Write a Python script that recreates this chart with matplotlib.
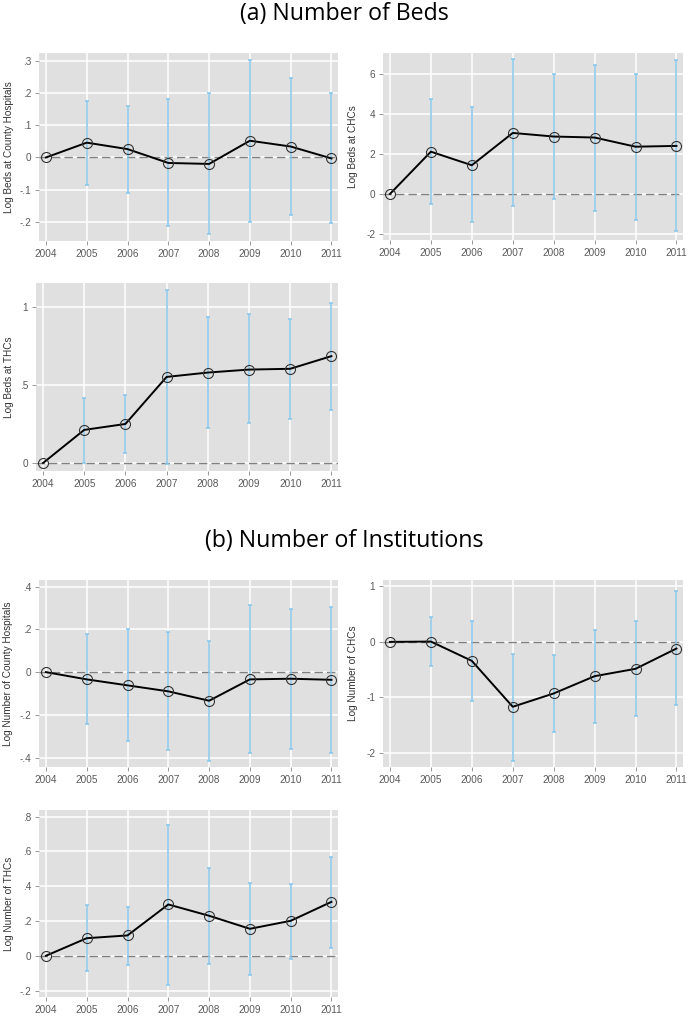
import numpy as np
import matplotlib.pyplot as plt

plt.rcParams['font.family'] = ['Liberation Sans', 'DejaVu Sans']

years = [2004, 2005, 2006, 2007, 2008, 2009, 2010, 2011]
nan = np.nan

# (a) Number of Beds -- point estimates and 95% bounds (2004 is the base year)
beds_county = [0, 0.046, 0.026, -0.017, -0.020, 0.052, 0.034, -0.003]
beds_county_lo = [nan, -0.084, -0.111, -0.211, -0.237, -0.200, -0.179, -0.203]
beds_county_hi = [nan, 0.176, 0.160, 0.180, 0.201, 0.303, 0.248, 0.200]

beds_chc = [0, 2.12, 1.44, 3.06, 2.88, 2.83, 2.37, 2.41]
beds_chc_lo = [nan, -0.52, -1.42, -0.60, -0.27, -0.85, -1.32, -1.87]
beds_chc_hi = [nan, 4.75, 4.38, 6.76, 6.00, 6.45, 6.00, 6.70]

beds_thc = [0, 0.212, 0.250, 0.551, 0.579, 0.598, 0.603, 0.684]
beds_thc_lo = [nan, 0.002, 0.064, -0.004, 0.227, 0.253, 0.280, 0.342]
beds_thc_hi = [nan, 0.417, 0.438, 1.107, 0.932, 0.951, 0.923, 1.026]

# (b) Number of Institutions
inst_county = [0, -0.034, -0.062, -0.090, -0.134, -0.034, -0.031, -0.036]
inst_county_lo = [nan, -0.243, -0.324, -0.366, -0.414, -0.378, -0.360, -0.378]
inst_county_hi = [nan, 0.176, 0.201, 0.188, 0.146, 0.312, 0.296, 0.304]

inst_chc = [0, 0.006, -0.342, -1.171, -0.931, -0.619, -0.486, -0.120]
inst_chc_lo = [nan, -0.444, -1.069, -2.150, -1.628, -1.460, -1.340, -1.147]
inst_chc_hi = [nan, 0.450, 0.384, -0.210, -0.228, 0.222, 0.372, 0.916]

inst_thc = [0, 0.101, 0.117, 0.295, 0.230, 0.155, 0.201, 0.310]
inst_thc_lo = [nan, -0.090, -0.054, -0.167, -0.046, -0.109, -0.019, 0.046]
inst_thc_hi = [nan, 0.293, 0.283, 0.754, 0.505, 0.417, 0.413, 0.570]

W, H = 688, 1016
fig = plt.figure(figsize=(W / 100, H / 100), dpi=100)


def panel(box, est, lo, hi, ylabel, yticks, yticklabels, ylim, label_x):
    left, top, right, bottom = box
    ax = fig.add_axes([left / W, 1 - bottom / H, (right - left) / W, (bottom - top) / H])
    ax.set_facecolor('#e0e0e0')
    for s in ax.spines.values():
        s.set_visible(False)
    ax.grid(True, color='white', linewidth=1.1)
    ax.set_axisbelow(True)

    est = np.array(est)
    lo = np.array(lo)
    hi = np.array(hi)
    ax.axhline(0, color='#808080', linewidth=1.0, dashes=(6, 3), zorder=2)
    ax.errorbar(years, est, yerr=[est - lo, hi - est], fmt='none',
                ecolor='#86c5e8', elinewidth=1.1, capsize=1.5, capthick=1.1, zorder=3)
    ax.plot(years, est, color='black', linewidth=1.4, zorder=4)
    ax.plot(years, est, 'o', markersize=7.2, markerfacecolor='none',
            markeredgecolor='#333333', markeredgewidth=0.8, zorder=5)

    ax.set_xlim(2003.83, 2011.16)
    ax.set_ylim(*ylim)
    ax.set_xticks(years)
    ax.set_yticks(yticks)
    ax.set_yticklabels(yticklabels)
    ax.tick_params(colors='#999999', labelcolor='#595959', labelsize=7.2,
                   length=2.6, width=0.7, pad=3)
    ax.tick_params(axis='x', pad=3.5)
    ax.set_ylabel(ylabel, fontsize=7.2, color='#333333')
    # label anchor is its right edge after rotation
    ax.yaxis.set_label_coords((label_x + 4.5 - left) / (right - left), 0.5)
    return ax


fig.text(0.5, 1 - 14 / H, '(a) Number of Beds', ha='center', va='center',
         fontsize=16.7, family='Open Sans')
fig.text(0.5, 1 - 541 / H, '(b) Number of Institutions', ha='center', va='center',
         fontsize=16.7, family='Open Sans')

panel((39, 53, 338, 241), beds_county, beds_county_lo, beds_county_hi,
      'Log Beds at County Hospitals',
      [-0.2, -0.1, 0, 0.1, 0.2, 0.3], ['-.2', '-.1', '0', '.1', '.2', '.3'], (-0.259, 0.324), 9.5)
panel((383, 53, 683, 240), beds_chc, beds_chc_lo, beds_chc_hi,
      'Log Beds at CHCs',
      [-2, 0, 2, 4, 6], ['-2', '0', '2', '4', '6'], (-2.31, 7.07), 354)
panel((36, 283, 338, 471), beds_thc, beds_thc_lo, beds_thc_hi,
      'Log Beds at THCs',
      [0, 0.5, 1], ['0', '.5', '1'], (-0.051, 1.152), 9.5)
panel((39, 580, 338, 767), inst_county, inst_county_lo, inst_county_hi,
      'Log Number of County Hospitals',
      [-0.4, -0.2, 0, 0.2, 0.4], ['-.4', '-.2', '0', '.2', '.4'], (-0.444, 0.431), 8.5)
panel((383, 580, 683, 767), inst_chc, inst_chc_lo, inst_chc_hi,
      'Log Number of CHCs',
      [-2, -1, 0, 1], ['-2', '-1', '0', '1'], (-2.258, 1.117), 353.5)
panel((39, 810, 338, 997), inst_thc, inst_thc_lo, inst_thc_hi,
      'Log Number of THCs',
      [-0.2, 0, 0.2, 0.4, 0.6, 0.8], ['-.2', '0', '.2', '.4', '.6', '.8'], (-0.237, 0.838), 9.5)

fig.savefig('out.png', dpi=100)
